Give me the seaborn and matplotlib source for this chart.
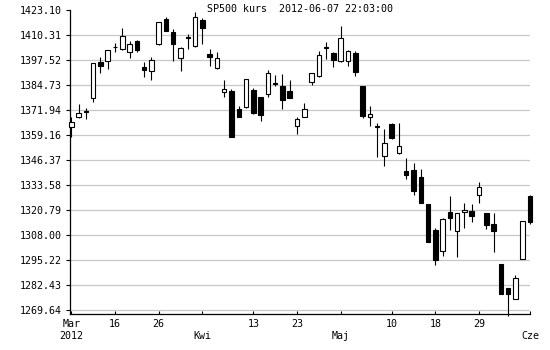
import numpy as np
import pandas as pd
import matplotlib
matplotlib.use("Agg")
import matplotlib.pyplot as plt
import seaborn as sns

# ---- data ----
dates = pd.bdate_range("2012-03-08", "2012-06-07")
dates = [d for d in dates if d.strftime("%Y-%m-%d") not in ("2012-04-06", "2012-05-28")]

opens = [1363.1, 1368.2, 1371.3, 1378.2, 1396.3, 1396.9, 1404.4, 1403.0, 1401.5, 1407.1,
         1393.8, 1392.1, 1405.6, 1418.3, 1411.7, 1398.4, 1409.1, 1404.5, 1418.0, 1400.6,
         1393.3, 1381.0, 1381.7, 1372.5, 1373.3, 1382.2, 1378.4, 1380.0, 1385.4, 1384.2,
         1381.7, 1363.9, 1368.5, 1386.4, 1389.3, 1404.0, 1401.3, 1397.2, 1397.2, 1401.3,
         1384.2, 1368.2, 1363.6, 1348.6, 1364.8, 1349.8, 1340.7, 1341.1, 1337.5, 1323.9,
         1310.6, 1299.7, 1319.6, 1309.9, 1319.6, 1320.3, 1328.3, 1319.3, 1313.6, 1293.2,
         1280.7, 1275.4, 1295.9, 1328.1]
highs = [1368.4, 1374.9, 1373.0, 1396.0, 1398.9, 1402.7, 1406.1, 1413.9, 1407.1, 1407.8,
         1396.3, 1398.9, 1417.0, 1419.7, 1413.4, 1404.3, 1410.8, 1421.9, 1418.9, 1403.2,
         1401.6, 1387.3, 1382.7, 1373.8, 1387.8, 1383.0, 1378.6, 1392.4, 1389.9, 1390.4,
         1387.3, 1368.2, 1375.4, 1390.9, 1402.3, 1406.6, 1401.4, 1415.1, 1402.4, 1402.1,
         1384.4, 1374.0, 1365.1, 1362.2, 1365.3, 1365.4, 1347.2, 1344.7, 1341.8, 1324.0,
         1311.6, 1316.7, 1327.9, 1319.3, 1324.2, 1323.7, 1335.1, 1319.4, 1319.3, 1293.3,
         1280.9, 1287.5, 1315.2, 1328.3]
lows = [1358.1, 1368.0, 1367.2, 1376.2, 1390.7, 1392.9, 1401.8, 1402.8, 1398.7, 1401.8,
        1389.0, 1387.3, 1405.4, 1412.3, 1397.2, 1392.1, 1403.0, 1404.3, 1405.6, 1394.6,
        1393.1, 1378.7, 1358.1, 1368.2, 1373.1, 1370.0, 1366.5, 1378.4, 1384.2, 1372.5,
        1378.0, 1359.7, 1368.3, 1384.7, 1389.0, 1398.0, 1394.1, 1396.7, 1394.6, 1389.3,
        1368.0, 1363.8, 1348.1, 1343.4, 1357.0, 1349.6, 1336.8, 1328.6, 1324.3, 1304.4,
        1292.8, 1297.4, 1310.6, 1296.9, 1311.7, 1314.6, 1324.2, 1311.2, 1299.5, 1277.8,
        1266.8, 1275.2, 1295.7, 1313.6]
closes = [1366.0, 1370.6, 1371.0, 1395.8, 1394.3, 1402.5, 1404.1, 1409.7, 1405.7, 1402.8,
          1392.6, 1397.4, 1416.8, 1412.5, 1405.6, 1403.5, 1408.9, 1419.4, 1413.7, 1398.9,
          1398.4, 1382.5, 1358.3, 1368.5, 1387.7, 1370.3, 1369.5, 1390.7, 1385.2, 1377.1,
          1378.2, 1367.3, 1372.5, 1390.7, 1400.1, 1403.7, 1397.5, 1408.6, 1402.3, 1391.5,
          1368.9, 1369.7, 1363.3, 1354.9, 1357.8, 1353.4, 1338.5, 1330.7, 1324.5, 1304.6,
          1295.4, 1316.2, 1316.5, 1319.1, 1320.8, 1317.9, 1332.4, 1313.3, 1310.2, 1278.0,
          1278.0, 1285.8, 1315.0, 1314.5]

ytick_values = [1269.64, 1282.43, 1295.22, 1308.00, 1320.79, 1333.58, 1346.37,
                1359.16, 1371.94, 1384.73, 1397.52, 1410.31, 1423.10]
ytick_labels = ["1269.64", "1282.43", "1295.22", "1308.00", "1320.79", "1333.58", "1346.37",
                "1359.16", "1371.94", "1384.73", "1397.52", "1410.31", "1423.10"]
xtick_index = [0, 6, 12, 18, 25, 31, 37, 44, 50, 56, 63]
xtick_labels = ["Mar\n2012", "16", "26", "\nKwi", "13", "23", "\nMaj", "10", "18", "29", "\nCze"]
title = "SP500 kurs  2012-06-07 22:03:00"

df = pd.DataFrame({"date": dates, "open": opens, "high": highs, "low": lows, "close": closes})
df["i"] = np.arange(len(df))
df["up"] = df["close"] >= df["open"]

# ---- style ----
sns.set_theme(style="white")
mono = ["DejaVu Sans Mono"]
plt.rcParams["font.family"] = mono
FS = 7.2

fig = plt.figure(figsize=(5.5, 3.5), dpi=100)
ax = fig.add_axes([70 / 550, 1 - 314.3 / 350, 460 / 550, 304.3 / 350])
ax.set_facecolor("white")

for v in ytick_values[:-1]:
    ax.axhline(v, color="#c8c8c8", lw=0.9, zorder=0)

# wicks
ax.vlines(df["i"], df["low"], df["high"], color="black", lw=0.8, zorder=2, clip_on=False)
# bodies
body_bottom = np.minimum(df["open"], df["close"])
body_height = np.maximum(np.abs(df["close"] - df["open"]), 0.3)
colors = np.where(df["up"], "white", "black")
bars = ax.bar(df["i"], body_height, bottom=body_bottom, width=0.62, color=colors,
              edgecolor="black", linewidth=0.8, zorder=3)
for b in bars:
    b.set_clip_on(False)

ax.set_xlim(-0.18, 63.0)
ax.set_ylim(1267.42, 1423.10)

for s in ["top", "right"]:
    ax.spines[s].set_visible(False)
for s in ["left", "bottom"]:
    ax.spines[s].set_color("black")
    ax.spines[s].set_linewidth(0.9)
    ax.spines[s].set_zorder(1)

ax.set_yticks(ytick_values)
ax.set_yticklabels(ytick_labels)
ax.set_xticks(xtick_index)
ax.set_xticklabels(xtick_labels, linespacing=1.25, va="top")
ax.tick_params(axis="y", direction="out", length=3, width=0.8, color="black",
               labelsize=FS, pad=3, left=True)
ax.tick_params(axis="x", direction="in", length=2.5, width=0.8, color="black",
               labelsize=FS, pad=3.5, bottom=True)
for lab in ax.get_xticklabels() + ax.get_yticklabels():
    lab.set_color("black")
    lab.set_family(mono)
ax.set_xlabel("")
ax.set_ylabel("")

fig.text(300 / 550, 1 - 9.5 / 350, title, ha="center", va="center",
         fontsize=FS, color="black", family=mono)

fig.savefig("out.png", dpi=100, facecolor="white")
